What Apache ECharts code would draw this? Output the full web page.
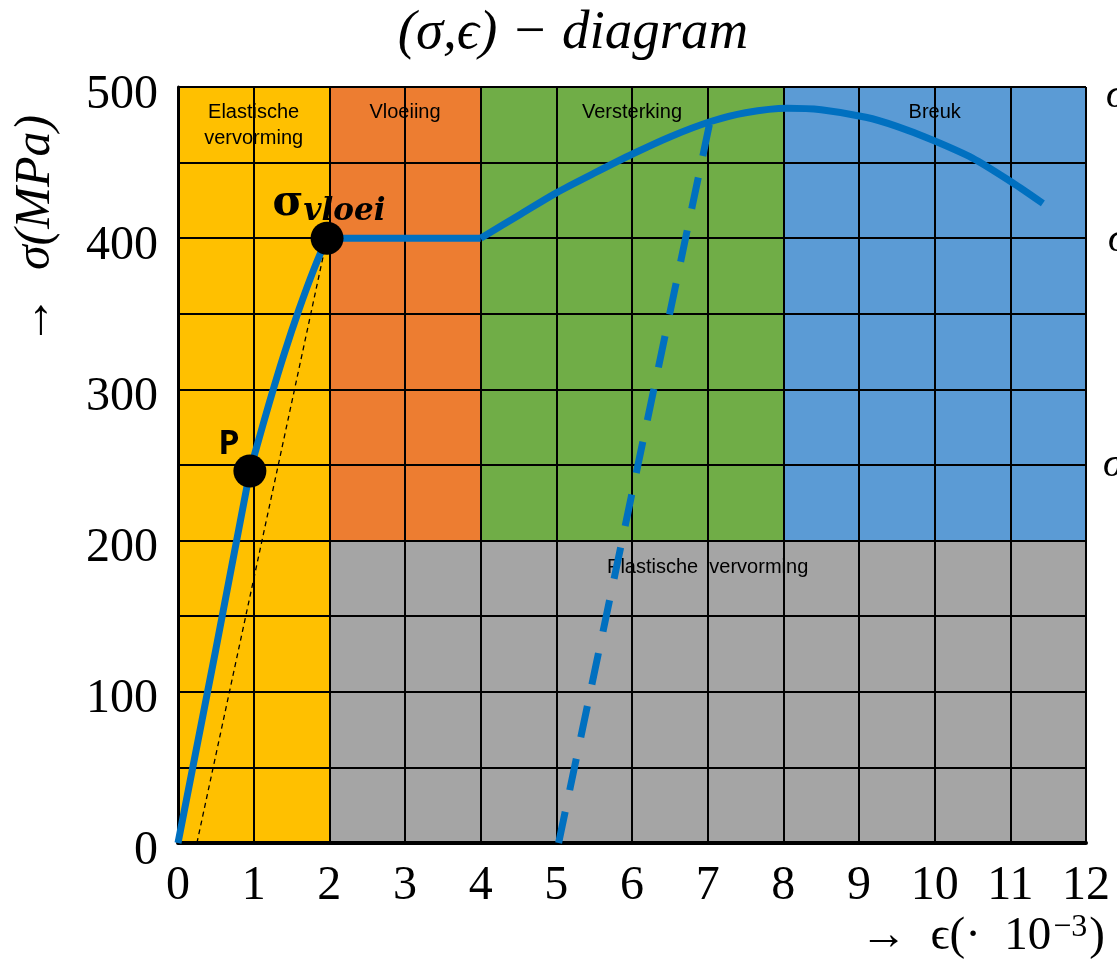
<!DOCTYPE html>
<html>
<head>
<meta charset="utf-8">
<script src="https://cdn.jsdelivr.net/npm/echarts@6/dist/echarts.min.js"></script>
<style>
  html, body { margin: 0; padding: 0; background: #fff; }
  #main { width: 1117px; height: 960px; }
</style>
</head>
<body>
<div id="main"></div>
<script>
// strain (x 10^-3) and stress (MPa)
var strainTicks = [0, 1, 2, 3, 4, 5, 6, 7, 8, 9, 10, 11, 12];
var stressTicks = [0, 100, 200, 300, 400, 500];

var elasticX = [0, 0.5, 0.95];
var elasticY = [0, 128, 246];
var bendX = [0.95, 1.2, 1.4, 1.6, 1.8, 1.97];
var bendY = [246, 290, 323, 353, 380, 400];
var yieldX = [1.97, 4];
var yieldY = [400, 400];
var hardenX = [4, 4.5, 5, 5.5, 6.02, 6.5, 7.03, 7.5, 8.05, 8.5, 9.09, 9.5, 9.97, 10.5, 11.02, 11.43];
var hardenY = [400, 415, 430, 443, 456, 467, 477, 483, 486, 485, 480, 474, 465, 453, 437, 423];
var unloadX = [5.03, 7.06];
var unloadY = [0, 484];
var secantX = [0.25, 1.97];
var secantY = [0, 400];

var pointNames = ['P', 'vloei'];
var pointX = [0.95, 1.97];
var pointY = [246, 400];

var zoneNames = ['Elastische\nvervorming', 'Vloeiing', 'Versterking', 'Breuk', 'Plastische  vervorming'];
var zoneX0 = [0, 2, 4, 8, 2];
var zoneX1 = [2, 4, 8, 12, 12];
var zoneY0 = [0, 200, 200, 200, 0];
var zoneY1 = [500, 500, 500, 500, 200];
var zoneColors = ['#FFC000', '#ED7D31', '#70AD47', '#5B9BD5', '#A5A5A5'];

function pairs(xs, ys) {
  return xs.map(function (x, i) { return [x, ys[i]]; });
}

var myChart = echarts.init(document.getElementById('main'));

var zones = zoneNames.map(function (n, i) {
  return [
    { name: n, coord: [zoneX0[i], zoneY1[i]], itemStyle: { color: zoneColors[i], opacity: 1 },
      label: { distance: i == 4 ? 14 : 12 } },
    { coord: [zoneX1[i], zoneY0[i]] }
  ];
});

var points = pointNames.map(function (n, i) {
  var lab;
  if (i == 0) {
    lab = { show: true, position: 'inside', offset: [-21, -27], formatter: n,
            fontFamily: 'Open Sans', fontWeight: 'bold', fontSize: 34, color: '#000' };
  } else {
    lab = { show: true, position: 'inside', offset: [2, -34], formatter: '{s|σ}{v|' + n + '}',
            rich: {
              s: { fontFamily: 'DejaVu Serif', fontWeight: 'bold', fontSize: 42, color: '#000' },
              v: { fontFamily: 'DejaVu Serif', fontStyle: 'italic', fontWeight: 'bold', fontSize: 31,
                   color: '#000', padding: [16, 0, 0, 0] }
            } };
  }
  return { value: [pointX[i], pointY[i]], label: lab };
});

var blue = '#0070C0';

var opt = {
  animation: false,
  grid: { left: 178, right: 31, top: 87, bottom: 117, containLabel: false },
  graphic: [
    { type: 'text', x: 573, y: 34,
      style: { text: '(σ,ϵ) − diagram', font: 'italic 55px "Liberation Serif"', fill: '#000',
               textAlign: 'center', textVerticalAlign: 'middle', align: 'center', verticalAlign: 'middle' } },
    { type: 'text', x: 36, y: 230, rotation: Math.PI / 2,
      style: { text: '→  σ(MPa)', font: 'italic 50px "Liberation Serif"', fill: '#000',
               textAlign: 'center', textVerticalAlign: 'middle', align: 'center', verticalAlign: 'middle' } },
    { type: 'text', x: 1105, y: 937,
      style: { text: '→  ϵ(·  10{sup|−3})', font: '47px "Liberation Serif"', fill: '#000',
               textAlign: 'right', textVerticalAlign: 'middle', align: 'right', verticalAlign: 'middle',
               rich: { sup: { font: '32px "Liberation Serif"', fill: '#000', padding: [0, 2, 18, 2] } } } },
    { type: 'text', x: 1106, y: 96,
      style: { text: 'σ', font: 'italic 40px "Liberation Serif"', fill: '#000', textVerticalAlign: 'middle', verticalAlign: 'middle' } },
    { type: 'text', x: 1108, y: 240,
      style: { text: 'σ', font: 'italic 40px "Liberation Serif"', fill: '#000', textVerticalAlign: 'middle', verticalAlign: 'middle' } },
    { type: 'text', x: 1103, y: 465,
      style: { text: 'σ', font: 'italic 40px "Liberation Serif"', fill: '#000', textVerticalAlign: 'middle', verticalAlign: 'middle' } }
  ],
  xAxis: {
    type: 'value', min: 0, max: 12, interval: 1, z: 3,
    axisLine: { show: true, lineStyle: { color: '#000', width: 4 } },
    axisTick: { show: false },
    axisLabel: {
      margin: 19, color: '#000', fontFamily: 'Liberation Serif', fontSize: 48,
      formatter: function (v) { return strainTicks.indexOf(v) >= 0 ? String(v) : ''; }
    },
    splitLine: { show: true, lineStyle: { color: '#000', width: 2 } }
  },
  yAxis: {
    type: 'value', min: 0, max: 500, interval: 50, z: 3,
    axisLine: { show: true, lineStyle: { color: '#000', width: 3 } },
    axisTick: { show: false },
    axisLabel: {
      margin: 20, color: '#000', fontFamily: 'Liberation Serif', fontSize: 48,
      verticalAlign: 'top', lineHeight: 16,
      formatter: function (v) { return stressTicks.indexOf(v) >= 0 ? String(v) : ''; }
    },
    splitLine: { show: true, lineStyle: { color: '#000', width: 2 } }
  },
  series: [
    {
      name: 'zones', type: 'scatter', data: [], z: 1,
      markArea: {
        silent: true, z: 1,
        label: { show: true, position: 'insideTop', color: '#000', fontFamily: 'Liberation Sans',
                 fontSize: 20, lineHeight: 26 },
        data: zones
      }
    },
    {
      name: 'secant', type: 'line', data: pairs(secantX, secantY), symbol: 'none',
      lineStyle: { color: '#000', width: 1.3, type: [5, 4] }, z: 4
    },
    {
      name: 'elastisch', type: 'line', data: pairs(elasticX, elasticY), symbol: 'none',
      lineStyle: { color: blue, width: 7 }, z: 5
    },
    {
      name: 'overgang', type: 'line', data: pairs(bendX, bendY), symbol: 'none', smooth: 0.4,
      lineStyle: { color: blue, width: 7 }, z: 5
    },
    {
      name: 'vloeiing', type: 'line', data: pairs(yieldX, yieldY), symbol: 'none',
      lineStyle: { color: blue, width: 7 }, z: 5
    },
    {
      name: 'versterking', type: 'line', data: pairs(hardenX, hardenY), symbol: 'none', smooth: 0.3,
      lineStyle: { color: blue, width: 7 }, z: 5
    },
    {
      name: 'ontlasten', type: 'line', data: pairs(unloadX, unloadY), symbol: 'none',
      lineStyle: { color: blue, width: 7, type: [32, 22], cap: 'butt' }, z: 5
    },
    {
      name: 'punten', type: 'scatter', data: points, symbol: 'circle', symbolSize: 33,
      itemStyle: { color: '#000', opacity: 1 }, z: 6
    }
  ]
};

myChart.setOption(opt);
</script>
</body>
</html>
